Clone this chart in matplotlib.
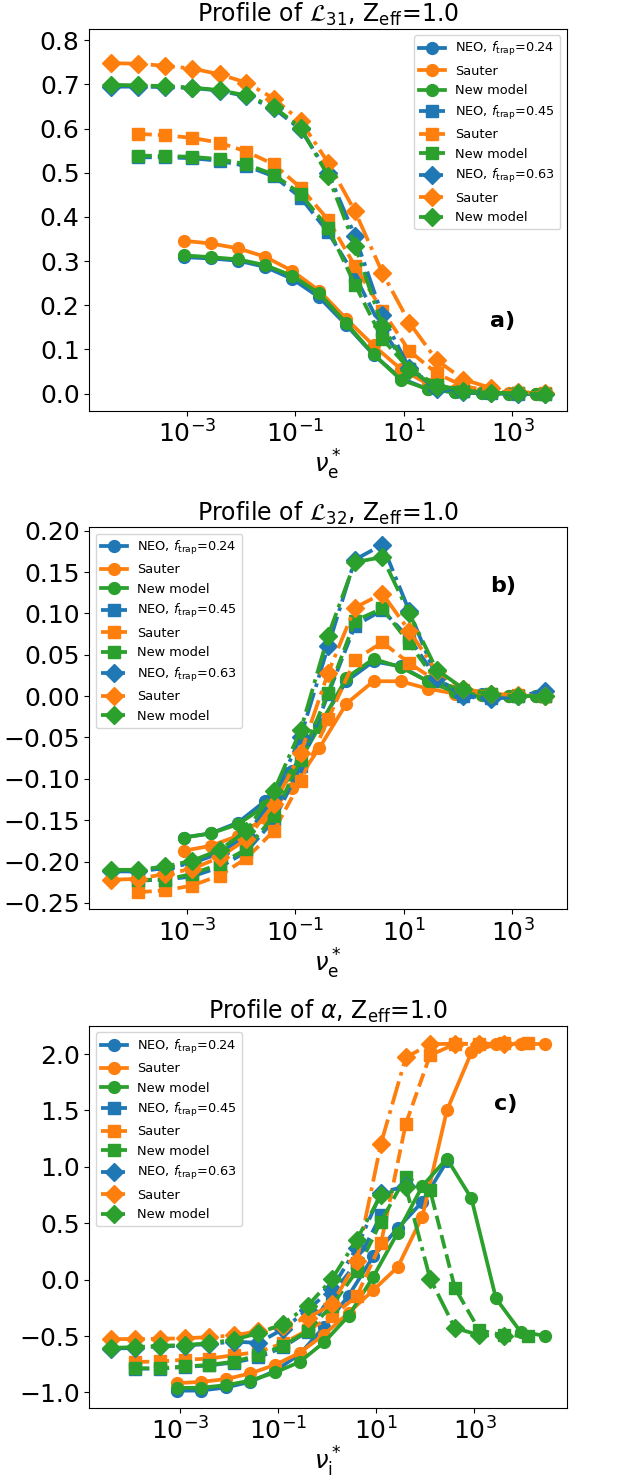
import matplotlib
matplotlib.use('Agg')
import matplotlib.pyplot as plt
from matplotlib.ticker import MultipleLocator

# collisionality grids
nu_grid_sq = [4.0e-5, 1.25e-4, 4.0e-4, 1.25e-3, 4.0e-3, 1.25e-2, 4.0e-2, 0.125,
              0.4, 1.25, 4.0, 12.5, 40.0, 125.0, 400.0, 1250.0, 4000.0, 12500.0]
nu_grid_ci = [8.7e-4, 2.75e-3, 8.7e-3, 2.75e-2, 8.7e-2, 0.275, 0.87, 2.75,
              8.7, 27.5, 87.0, 275.0, 870.0, 2750.0, 8700.0, 27500.0]

ftraps = ['0.24', '0.45', '0.63']

# panel a) L31
L31_neo_024 = [0.309, 0.306, 0.301, 0.287, 0.260, 0.218, 0.155, 0.088, 0.035, 0.010, 0.003, 0.001, 0.0, 0.0]
L31_sau_024 = [0.346, 0.340, 0.329, 0.310, 0.278, 0.233, 0.169, 0.109, 0.056, 0.022, 0.008, 0.003, 0.001, 0.0]
L31_new_024 = [0.313, 0.309, 0.304, 0.291, 0.267, 0.227, 0.159, 0.089, 0.032, 0.010, 0.003, 0.001, 0.0, 0.0]
L31_neo_045 = [0.535, 0.535, 0.533, 0.527, 0.515, 0.492, 0.444, 0.365, 0.267, 0.145, 0.055, 0.017, 0.005, 0.002, 0.0, 0.0]
L31_sau_045 = [0.588, 0.585, 0.579, 0.568, 0.548, 0.519, 0.466, 0.394, 0.289, 0.188, 0.097, 0.046, 0.017, 0.006, 0.002, 0.001]
L31_new_045 = [0.539, 0.538, 0.536, 0.531, 0.519, 0.496, 0.452, 0.375, 0.247, 0.124, 0.056, 0.020, 0.007, 0.003, 0.001, 0.0]
L31_neo_063 = [0.695, 0.695, 0.694, 0.692, 0.686, 0.673, 0.646, 0.598, 0.500, 0.357, 0.177, 0.058, 0.010, 0.004, 0.001, 0.0, 0.0]
L31_sau_063 = [0.748, 0.747, 0.742, 0.736, 0.723, 0.704, 0.668, 0.617, 0.523, 0.413, 0.274, 0.161, 0.076, 0.032, 0.013, 0.004, 0.001]
L31_new_063 = [0.699, 0.698, 0.696, 0.693, 0.687, 0.675, 0.649, 0.602, 0.493, 0.335, 0.154, 0.054, 0.015, 0.005, 0.002, 0.001, 0.0]

# panel b) L32
L32_neo_024 = [-0.171, -0.166, -0.153, -0.127, -0.090, -0.035, 0.018, 0.042, 0.036, 0.018, 0.006, 0.002, 0.0, 0.0]
L32_sau_024 = [-0.187, -0.181, -0.169, -0.147, -0.111, -0.063, -0.009, 0.018, 0.018, 0.009, 0.003, 0.001, 0.0, 0.0]
L32_new_024 = [-0.171, -0.166, -0.155, -0.133, -0.095, -0.037, 0.022, 0.045, 0.035, 0.018, 0.005, 0.001, 0.0, 0.0]
L32_neo_045 = [-0.223, -0.222, -0.218, -0.207, -0.188, -0.150, -0.085, 0.002, 0.085, 0.104, 0.070, 0.022, 0.0, -0.002, 0.0, 0.0]
L32_sau_045 = [-0.237, -0.235, -0.229, -0.217, -0.196, -0.163, -0.103, -0.028, 0.044, 0.065, 0.040, 0.018, 0.007, 0.002, 0.001, 0.0]
L32_new_045 = [-0.222, -0.222, -0.215, -0.203, -0.185, -0.145, -0.077, 0.004, 0.091, 0.106, 0.064, 0.018, 0.006, 0.002, 0.0, 0.0]
L32_neo_063 = [-0.212, -0.212, -0.208, -0.202, -0.190, -0.168, -0.122, -0.049, 0.060, 0.165, 0.183, 0.103, 0.022, 0.0, -0.004, 0.0, 0.006]
L32_sau_063 = [-0.222, -0.221, -0.215, -0.209, -0.195, -0.173, -0.131, -0.069, 0.028, 0.107, 0.124, 0.079, 0.030, 0.009, 0.003, 0.001, 0.0]
L32_new_063 = [-0.210, -0.210, -0.206, -0.199, -0.186, -0.163, -0.115, -0.041, 0.073, 0.162, 0.168, 0.100, 0.032, 0.009, 0.002, 0.0, 0.0]

# panel c) alpha
al_neo_024 = [-0.985, -0.983, -0.956, -0.906, -0.809, -0.662, -0.418, -0.141, 0.206, 0.456, 0.691, 1.050]
al_sau_024 = [-0.918, -0.906, -0.882, -0.831, -0.756, -0.649, -0.487, -0.294, -0.093, 0.112, 0.559, 1.500, 2.015, 2.088, 2.090, 2.090]
al_new_024 = [-0.960, -0.958, -0.936, -0.895, -0.823, -0.731, -0.555, -0.321, 0.025, 0.418, 0.829, 1.074, 0.720, -0.167, -0.462, -0.498]
al_neo_045 = [-0.790, -0.788, -0.775, -0.760, -0.735, -0.690, -0.600, -0.460, -0.130, 0.150, 0.570]
al_sau_045 = [-0.730, -0.725, -0.710, -0.700, -0.670, -0.640, -0.565, -0.450, -0.325, -0.148, 0.322, 1.380, 1.990, 2.088, 2.093, 2.095, 2.095]
al_new_045 = [-0.786, -0.786, -0.770, -0.756, -0.727, -0.670, -0.587, -0.457, -0.230, 0.074, 0.515, 0.912, 0.794, -0.074, -0.447, -0.494, -0.500]
al_neo_063 = [-0.612, -0.605, -0.592, -0.585, -0.570, -0.550, -0.560, -0.440, -0.270, -0.080, 0.280, 0.770, 0.830]
al_sau_063 = [-0.527, -0.527, -0.524, -0.520, -0.509, -0.495, -0.457, -0.410, -0.340, -0.220, 0.162, 1.206, 1.970, 2.088, 2.092, 2.092, 2.092]
al_new_063 = [-0.605, -0.598, -0.586, -0.580, -0.563, -0.533, -0.475, -0.394, -0.233, 0.003, 0.354, 0.750, 0.824, 0.010, -0.428, -0.492, -0.496]

styles = {'0.24': ('-', 'o', nu_grid_ci, 0),
          '0.45': ('--', 's', nu_grid_sq, 1),
          '0.63': ('-.', 'D', nu_grid_sq, 0)}
colors = ['#1f77b4', '#ff7f0e', '#2ca02c']


def plot_panel(ax, series, title, xlabel, tag, tag_pos, legloc, ystep):
  for ft in ftraps:
    ls, mk, grid, start = styles[ft]
    labels = ['NEO, $f_{\\rm trap}$=' + ft, 'Sauter', 'New model']
    for vals, col, lab in zip(series[ft], colors, labels):
      x = grid[start:start + len(vals)]
      ax.plot(x, vals, linestyle=ls, marker=mk, color=col, label=lab,
              lw=2.7, ms=9 if mk == 'D' else 8.5)
  ax.set_xscale('log')
  ax.yaxis.set_major_locator(MultipleLocator(ystep))
  ax.set_title(title, fontsize=17, pad=5)
  ax.set_xlabel(xlabel, fontsize=17.5, labelpad=0)
  ax.tick_params(labelsize=18)
  ax.legend(loc=legloc, fontsize=9.3)
  ax.text(tag_pos[0], tag_pos[1], tag, transform=ax.transAxes,
          fontsize=16, fontweight='bold', ha='center', va='center')


fig, axs = plt.subplots(3, 1, figsize=(6.34, 14.76), dpi=100)
fig.subplots_adjust(left=0.141, right=0.894, top=0.9805, bottom=0.046,
                    hspace=0.305)

plot_panel(axs[0], {'0.24': [L31_neo_024, L31_sau_024, L31_new_024],
                    '0.45': [L31_neo_045, L31_sau_045, L31_new_045],
                    '0.63': [L31_neo_063, L31_sau_063, L31_new_063]},
           'Profile of $\\mathcal{L}_{31}$, Z$_{\\rm eff}$=1.0',
           '$\\nu_{\\rm e}^*$', 'a)', (0.866, 0.235), 'upper right', 0.1)
axs[0].set_ylim(-0.039, 0.826)

plot_panel(axs[1], {'0.24': [L32_neo_024, L32_sau_024, L32_new_024],
                    '0.45': [L32_neo_045, L32_sau_045, L32_new_045],
                    '0.63': [L32_neo_063, L32_sau_063, L32_new_063]},
           'Profile of $\\mathcal{L}_{32}$, Z$_{\\rm eff}$=1.0',
           '$\\nu_{\\rm e}^*$', 'b)', (0.867, 0.846), 'upper left', 0.05)

plot_panel(axs[2], {'0.24': [al_neo_024, al_sau_024, al_new_024],
                    '0.45': [al_neo_045, al_sau_045, al_new_045],
                    '0.63': [al_neo_063, al_sau_063, al_new_063]},
           'Profile of $\\alpha$, Z$_{\\rm eff}$=1.0',
           '$\\nu_{\\rm i}^*$', 'c)', (0.872, 0.797), 'upper left', 0.5)

plt.savefig('out.png')
